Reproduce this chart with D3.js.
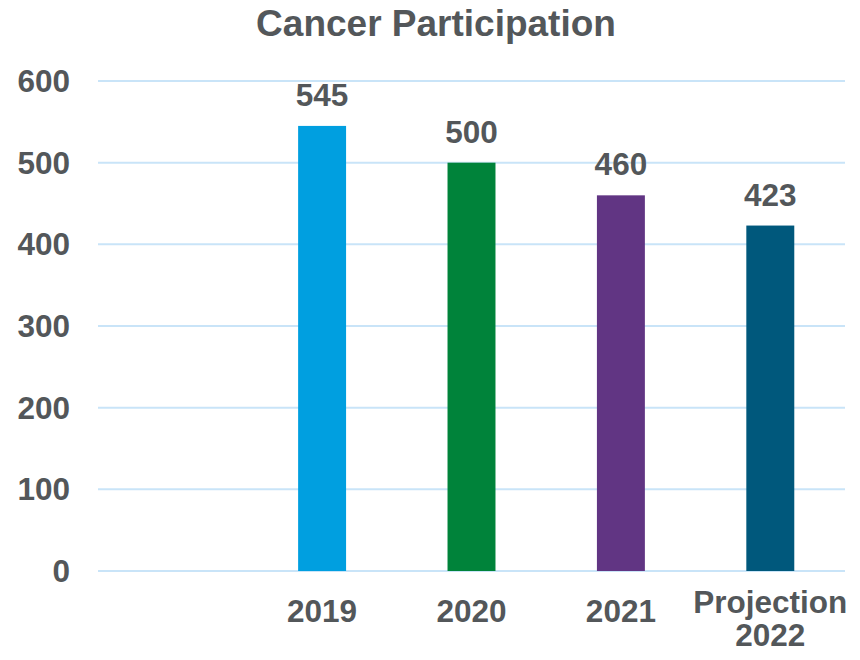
<!DOCTYPE html>
<html>
<head>
<meta charset="utf-8">
<script src="https://cdn.jsdelivr.net/npm/d3@7"></script>
<style>
  body { margin: 0; background: #fff; }
  text { font-family: "Liberation Sans", Arial, sans-serif; font-weight: bold; fill: #53575A; }
</style>
</head>
<body>
<svg></svg>
<script>
var categories = ["", "2019", "2020", "2021", "Projection\n2022"];
var values = [null, 545, 500, 460, 423];
var barColors = ["#ffffff", "#009FE0", "#00833A", "#613583", "#00587C"];
var yTicks = [0, 100, 200, 300, 400, 500, 600];

var width = 860, height = 660;
var margin = {top: 81, right: 15, bottom: 89, left: 98};
var labelSize = 31.5;

var svg = d3.select("svg")
    .attr("width", width)
    .attr("height", height);

var x = d3.scaleBand()
    .domain(categories)
    .range([margin.left, width - margin.right])
    .paddingInner(0.679)
    .paddingOuter(0.3395);

var y = d3.scaleLinear()
    .domain([0, 600])
    .range([height - margin.bottom, margin.top]);

// gridlines
svg.append("g")
  .selectAll("line")
  .data(yTicks)
  .enter().append("line")
    .attr("x1", margin.left)
    .attr("x2", width - margin.right)
    .attr("y1", function(d) { return y(d); })
    .attr("y2", function(d) { return y(d); })
    .attr("stroke", "#C9E4F8")
    .attr("stroke-width", 2);

// y tick labels
svg.append("g")
  .selectAll("text")
  .data(yTicks)
  .enter().append("text")
    .attr("x", 70)
    .attr("y", function(d) { return y(d); })
    .attr("dy", "0.35em")
    .attr("text-anchor", "end")
    .attr("font-size", labelSize)
    .text(function(d) { return d; });

var data = categories.map(function(c, i) { return {cat: c, value: values[i], color: barColors[i]}; })
    .filter(function(d) { return d.value != null; });

svg.append("g")
  .selectAll("rect")
  .data(data)
  .enter().append("rect")
    .attr("x", function(d) { return x(d.cat); })
    .attr("width", x.bandwidth())
    .attr("y", function(d) { return y(d.value); })
    .attr("height", function(d) { return y(0) - y(d.value); })
    .attr("fill", function(d) { return d.color; });

// value labels
svg.append("g")
  .selectAll("text")
  .data(data)
  .enter().append("text")
    .attr("x", function(d) { return x(d.cat) + x.bandwidth() / 2; })
    .attr("y", function(d) { return y(d.value) - 20; })
    .attr("text-anchor", "middle")
    .attr("font-size", labelSize)
    .text(function(d) { return d.value; });

// category labels, one text per line
var catLines = [];
categories.forEach(function(c) {
  if (c === "") return;
  var lines = c.split("\n");
  lines.forEach(function(l, i) { catLines.push({cat: c, text: l, i: i, n: lines.length}); });
});

svg.append("g")
  .selectAll("text")
  .data(catLines)
  .enter().append("text")
    .attr("x", function(d) { return x(d.cat) + x.bandwidth() / 2; })
    .attr("y", function(d) { return (d.n > 1 ? 613 : 622) + d.i * 33; })
    .attr("text-anchor", "middle")
    .attr("font-size", labelSize)
    .text(function(d) { return d.text; });

// title
svg.append("text")
    .attr("x", 436)
    .attr("y", 36)
    .attr("text-anchor", "middle")
    .attr("font-size", 37)
    .text("Cancer Participation");
</script>
</body>
</html>
